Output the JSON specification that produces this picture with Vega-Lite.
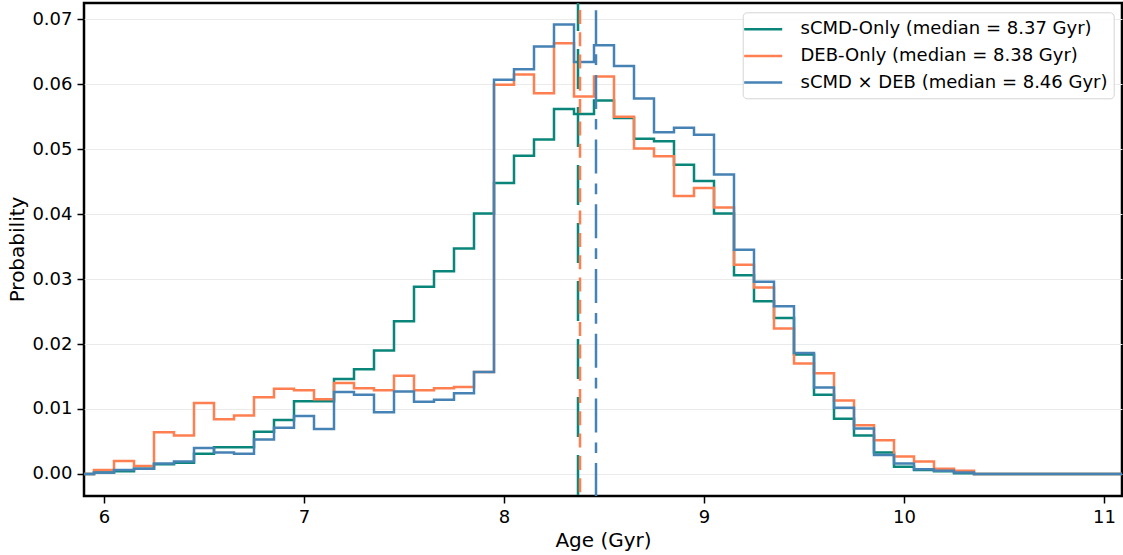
{
  "$schema": "https://vega.github.io/schema/vega-lite/v6.json",
  "width": 1038,
  "height": 493,
  "autosize": {"type": "none"},
  "padding": {"left": 84, "top": 3, "right": 1, "bottom": 59},
  "background": "white",
  "config": {
    "font": "DejaVu Sans",
    "view": {"stroke": "black", "strokeWidth": 2.5},
    "axis": {
      "domain": false,
      "tickColor": "black",
      "tickWidth": 1.5,
      "tickSize": 7,
      "labelFontSize": 18,
      "labelColor": "black",
      "titleFontSize": 20,
      "titleFontWeight": "normal",
      "titleColor": "black",
      "gridColor": "#ebebeb",
      "gridWidth": 1
    }
  },
  "datasets": {
    "hist": [
      {"edge": 5.85, "sCMD": 0, "DEB": 0, "both": 0},
      {"edge": 5.95, "sCMD": 0.0002, "DEB": 0.0006, "both": 0.0002},
      {"edge": 6.05, "sCMD": 0.0004, "DEB": 0.0020, "both": 0.0006},
      {"edge": 6.15, "sCMD": 0.0008, "DEB": 0.0012, "both": 0.0008},
      {"edge": 6.25, "sCMD": 0.0015, "DEB": 0.0064, "both": 0.0016},
      {"edge": 6.35, "sCMD": 0.0017, "DEB": 0.0059, "both": 0.0019},
      {"edge": 6.45, "sCMD": 0.0031, "DEB": 0.0109, "both": 0.0040},
      {"edge": 6.55, "sCMD": 0.0041, "DEB": 0.0084, "both": 0.0033},
      {"edge": 6.65, "sCMD": 0.0041, "DEB": 0.0090, "both": 0.0031},
      {"edge": 6.75, "sCMD": 0.0065, "DEB": 0.0118, "both": 0.0053},
      {"edge": 6.85, "sCMD": 0.0083, "DEB": 0.0131, "both": 0.0071},
      {"edge": 6.95, "sCMD": 0.0112, "DEB": 0.0129, "both": 0.0089},
      {"edge": 7.05, "sCMD": 0.0112, "DEB": 0.0115, "both": 0.0069},
      {"edge": 7.15, "sCMD": 0.0146, "DEB": 0.0140, "both": 0.0126},
      {"edge": 7.25, "sCMD": 0.0161, "DEB": 0.0132, "both": 0.0122},
      {"edge": 7.35, "sCMD": 0.0190, "DEB": 0.0129, "both": 0.0095},
      {"edge": 7.45, "sCMD": 0.0235, "DEB": 0.0151, "both": 0.0127},
      {"edge": 7.55, "sCMD": 0.0288, "DEB": 0.0129, "both": 0.0111},
      {"edge": 7.65, "sCMD": 0.0312, "DEB": 0.0132, "both": 0.0114},
      {"edge": 7.75, "sCMD": 0.0347, "DEB": 0.0134, "both": 0.0124},
      {"edge": 7.85, "sCMD": 0.0401, "DEB": 0.0157, "both": 0.0157},
      {"edge": 7.95, "sCMD": 0.0448, "DEB": 0.0599, "both": 0.0607},
      {"edge": 8.05, "sCMD": 0.0490, "DEB": 0.0615, "both": 0.0623},
      {"edge": 8.15, "sCMD": 0.0515, "DEB": 0.0586, "both": 0.0658},
      {"edge": 8.25, "sCMD": 0.0562, "DEB": 0.0663, "both": 0.0692},
      {"edge": 8.35, "sCMD": 0.0554, "DEB": 0.0581, "both": 0.0634},
      {"edge": 8.45, "sCMD": 0.0575, "DEB": 0.0612, "both": 0.0660},
      {"edge": 8.55, "sCMD": 0.0548, "DEB": 0.0550, "both": 0.0628},
      {"edge": 8.65, "sCMD": 0.0516, "DEB": 0.0501, "both": 0.0578},
      {"edge": 8.75, "sCMD": 0.0512, "DEB": 0.0489, "both": 0.0526},
      {"edge": 8.85, "sCMD": 0.0476, "DEB": 0.0428, "both": 0.0533},
      {"edge": 8.95, "sCMD": 0.0451, "DEB": 0.0440, "both": 0.0522},
      {"edge": 9.05, "sCMD": 0.0401, "DEB": 0.0410, "both": 0.0461},
      {"edge": 9.15, "sCMD": 0.0306, "DEB": 0.0322, "both": 0.0345},
      {"edge": 9.25, "sCMD": 0.0266, "DEB": 0.0287, "both": 0.0296},
      {"edge": 9.35, "sCMD": 0.0240, "DEB": 0.0224, "both": 0.0258},
      {"edge": 9.45, "sCMD": 0.0184, "DEB": 0.0170, "both": 0.0186},
      {"edge": 9.55, "sCMD": 0.0122, "DEB": 0.0155, "both": 0.0133},
      {"edge": 9.65, "sCMD": 0.0085, "DEB": 0.0113, "both": 0.0102},
      {"edge": 9.75, "sCMD": 0.0059, "DEB": 0.0075, "both": 0.0070},
      {"edge": 9.85, "sCMD": 0.0033, "DEB": 0.0052, "both": 0.0029},
      {"edge": 9.95, "sCMD": 0.0011, "DEB": 0.0027, "both": 0.0016},
      {"edge": 10.05, "sCMD": 0.0006, "DEB": 0.0019, "both": 0.0007},
      {"edge": 10.15, "sCMD": 0.0004, "DEB": 0.0008, "both": 0.0005},
      {"edge": 10.25, "sCMD": 0.0001, "DEB": 0.0005, "both": 0.0002},
      {"edge": 10.35, "sCMD": 0, "DEB": 0, "both": 0},
      {"edge": 10.45, "sCMD": 0, "DEB": 0, "both": 0},
      {"edge": 10.55, "sCMD": 0, "DEB": 0, "both": 0},
      {"edge": 10.65, "sCMD": 0, "DEB": 0, "both": 0},
      {"edge": 10.75, "sCMD": 0, "DEB": 0, "both": 0},
      {"edge": 10.85, "sCMD": 0, "DEB": 0, "both": 0},
      {"edge": 10.95, "sCMD": 0, "DEB": 0, "both": 0},
      {"edge": 11.05, "sCMD": 0, "DEB": 0, "both": 0},
      {"edge": 11.15, "sCMD": 0, "DEB": 0, "both": 0}
    ],
    "med": [
      {"s": "sCMD", "m": 8.37},
      {"s": "DEB", "m": 8.38},
      {"s": "both", "m": 8.46}
    ]
  },
  "layer": [
    {
      "data": {"name": "hist"},
      "transform": [{"fold": ["sCMD", "DEB", "both"], "as": ["series", "p"]}],
      "mark": {"type": "line", "interpolate": "step-after", "strokeWidth": 2.5, "clip": true},
      "encoding": {
        "x": {
          "field": "edge", "type": "quantitative",
          "scale": {"domain": [5.9, 11.09], "nice": false, "zero": false},
          "axis": {"values": [6, 7, 8, 9, 10, 11], "format": "d", "grid": false, "title": "Age (Gyr)", "labelPadding": 5, "titlePadding": 4}
        },
        "y": {
          "field": "p", "type": "quantitative",
          "scale": {"domain": [-0.0034, 0.0725], "nice": false, "zero": false},
          "axis": {"values": [0, 0.01, 0.02, 0.03, 0.04, 0.05, 0.06, 0.07], "format": ".2f", "grid": true, "title": "Probability", "labelPadding": 5, "titleX": -67, "titleY": 246, "titleAngle": -90, "titleAlign": "center", "titleBaseline": "middle"}
        },
        "color": {
          "field": "series", "type": "nominal",
          "scale": {"domain": ["sCMD", "DEB", "both"], "range": ["#0a857a", "#ff7f50", "#4682b4"]},
          "legend": {
            "title": null,
            "orient": "none",
            "legendX": 658.7,
            "legendY": 9.3,
            "direction": "vertical",
            "symbolType": "M-2,0H2",
            "symbolSize": 361,
            "symbolStrokeWidth": 2.5,
            "symbolOffset": 3.5,
            "labelFontSize": 18,
            "labelColor": "black",
            "labelOffset": 26.3,
            "labelLimit": 600,
            "rowPadding": 6.6,
            "padding": 6,
            "fillColor": "rgba(255,255,255,0.85)",
            "strokeColor": "#d4d4d4",
            "cornerRadius": 4,
            "labelExpr": "datum.label == 'sCMD' ? 'sCMD-Only (median = 8.37 Gyr)' : datum.label == 'DEB' ? 'DEB-Only (median = 8.38 Gyr)' : 'sCMD × DEB (median = 8.46 Gyr)'"
          }
        }
      }
    },
    {
      "data": {"name": "med"},
      "transform": [{"filter": "datum.s == 'sCMD'"}],
      "mark": {"type": "rule", "color": "#0a857a", "strokeWidth": 2.5, "strokeDash": [40, 18], "strokeDashOffset": 12},
      "encoding": {"x": {"field": "m", "type": "quantitative"}}
    },
    {
      "data": {"name": "med"},
      "transform": [{"filter": "datum.s == 'DEB'"}],
      "mark": {"type": "rule", "color": "#ff7f50", "strokeWidth": 2.5, "strokeDash": [14, 8.3], "strokeDashOffset": 15.4},
      "encoding": {"x": {"field": "m", "type": "quantitative"}}
    },
    {
      "data": {"name": "med"},
      "transform": [{"filter": "datum.s == 'both'"}],
      "mark": {"type": "rule", "color": "#4682b4", "strokeWidth": 2.5, "strokeDash": [34, 10, 10.7, 10], "strokeDashOffset": 57.5},
      "encoding": {"x": {"field": "m", "type": "quantitative"}}
    }
  ]
}
